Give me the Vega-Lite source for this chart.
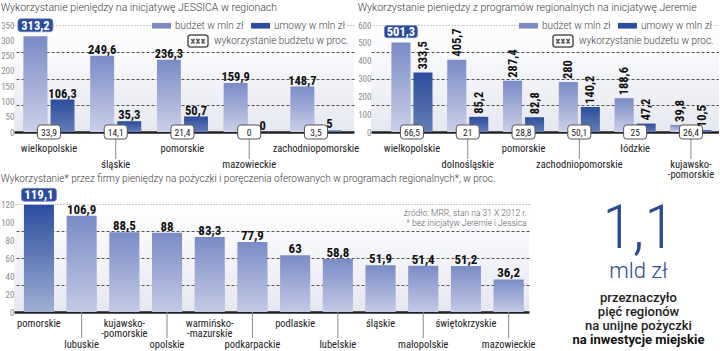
{
  "$schema": "https://vega.github.io/schema/vega-lite/v6.json",
  "padding": {"left": 0, "top": 2, "right": 0, "bottom": 0},
  "config": {
    "font": "'Roboto Condensed', 'DejaVu Sans Condensed', Roboto",
    "view": {"stroke": null},
    "locale": {"number": {"decimal": ",", "thousands": " ", "grouping": [3], "currency": ["", " zł"]}},
    "title": {"anchor": "start", "frame": "bounds", "font": "Roboto", "fontSize": 10.5, "fontWeight": 300, "color": "#3a3a3a", "offset": 3, "baseline": "bottom"},
    "axis": {"labelOverlap": false, "labelFont": "'Roboto Condensed', 'DejaVu Sans Condensed', Roboto"},
    "legend": {"labelFont": "Roboto", "labelFontWeight": 300, "labelFontSize": 10, "labelColor": "#444444", "symbolOpacity": 1, "padding": 0, "rowPadding": 0}
  },
  "resolve": {
    "scale": {"color": "independent", "opacity": "independent", "xOffset": "independent", "fillOpacity": "independent"},
    "legend": {"color": "independent", "opacity": "independent"}
  },
  "datasets": {
    "jessica": [
      {"region": "wielkopolskie", "typ": "budżet", "wartosc": 313.2},
      {"region": "wielkopolskie", "typ": "umowy", "wartosc": 106.3},
      {"region": "śląskie", "typ": "budżet", "wartosc": 249.6},
      {"region": "śląskie", "typ": "umowy", "wartosc": 35.3},
      {"region": "pomorskie", "typ": "budżet", "wartosc": 236.3},
      {"region": "pomorskie", "typ": "umowy", "wartosc": 50.7},
      {"region": "mazowieckie", "typ": "budżet", "wartosc": 159.9},
      {"region": "mazowieckie", "typ": "umowy", "wartosc": 0},
      {"region": "zachodniopomorskie", "typ": "budżet", "wartosc": 148.7},
      {"region": "zachodniopomorskie", "typ": "umowy", "wartosc": 5}
    ],
    "jessica_proc": [
      {"region": "wielkopolskie", "proc": 33.9},
      {"region": "śląskie", "proc": 14.1},
      {"region": "pomorskie", "proc": 21.4},
      {"region": "mazowieckie", "proc": 0},
      {"region": "zachodniopomorskie", "proc": 3.5}
    ],
    "jeremie": [
      {"region": "wielkopolskie", "typ": "budżet", "wartosc": 501.3},
      {"region": "wielkopolskie", "typ": "umowy", "wartosc": 333.5},
      {"region": "dolnośląskie", "typ": "budżet", "wartosc": 405.7},
      {"region": "dolnośląskie", "typ": "umowy", "wartosc": 85.2},
      {"region": "pomorskie", "typ": "budżet", "wartosc": 287.4},
      {"region": "pomorskie", "typ": "umowy", "wartosc": 82.8},
      {"region": "zachodniopomorskie", "typ": "budżet", "wartosc": 280},
      {"region": "zachodniopomorskie", "typ": "umowy", "wartosc": 140.2},
      {"region": "łódzkie", "typ": "budżet", "wartosc": 188.6},
      {"region": "łódzkie", "typ": "umowy", "wartosc": 47.2},
      {"region": "kujawsko-pomorskie", "typ": "budżet", "wartosc": 39.8},
      {"region": "kujawsko-pomorskie", "typ": "umowy", "wartosc": 10.5}
    ],
    "jeremie_proc": [
      {"region": "wielkopolskie", "proc": 66.5},
      {"region": "dolnośląskie", "proc": 21},
      {"region": "pomorskie", "proc": 28.8},
      {"region": "zachodniopomorskie", "proc": 50.1},
      {"region": "łódzkie", "proc": 25},
      {"region": "kujawsko-pomorskie", "proc": 26.4}
    ],
    "pozyczki": [
      {"region": "pomorskie", "wartosc": 119.1},
      {"region": "lubuskie", "wartosc": 106.9},
      {"region": "kujawsko-pomorskie", "wartosc": 88.5},
      {"region": "opolskie", "wartosc": 88},
      {"region": "warmińsko-mazurskie", "wartosc": 83.3},
      {"region": "podkarpackie", "wartosc": 77.9},
      {"region": "podlaskie", "wartosc": 63},
      {"region": "lubelskie", "wartosc": 58.8},
      {"region": "śląskie", "wartosc": 51.9},
      {"region": "małopolskie", "wartosc": 51.4},
      {"region": "świętokrzyskie", "wartosc": 51.2},
      {"region": "mazowieckie", "wartosc": 36.2}
    ],
    "notka": [
      {"linia1": "źródło: MRR, stan na 31 X 2012 r.", "linia2": "* bez inicjatyw Jeremie i Jessica"}
    ],
    "haslo": [
      {"n": 1, "tekst": "1,1"},
      {"n": 2, "tekst": "mld zł"},
      {"n": 3, "tekst": "przeznaczyło"},
      {"n": 4, "tekst": "pięć regionów"},
      {"n": 5, "tekst": "na unijne pożyczki"},
      {"n": 6, "tekst": "na inwestycje miejskie"}
    ]
  },
  "spacing": -7,
  "vconcat": [
    {
      "hconcat": [
        {
          "width": 340,
          "height": 107,
          "title": "Wykorzystanie pieniędzy na inicjatywę JESSICA w regionach",
          "view": {"fill": {"gradient": "linear", "x1": 0, "y1": 0, "x2": 0, "y2": 1, "stops": [{"offset": 0, "color": "#ffffff"}, {"offset": 1, "color": "#e6e8f0"}]}},
          "resolve": {"axis": {"y": "independent"}},
          "layer": [
            {
              "data": {"name": "jessica"},
              "mark": {"type": "bar"},
              "encoding": {
                "x": {"field": "region", "type": "nominal", "sort": null,
                  "scale": {"paddingInner": 0.236, "paddingOuter": 0.165, "align": 0.43},
                  "axis": {"title": null, "labelAngle": 0, "ticks": false, "domainColor": "#222222", "domainWidth": 2.5, "labelColor": "#222222", "labelFontSize": 10.5, "labelBaseline": "top", "labelLineHeight": 10.5,
                    "labelPadding": {"condition": {"test": "indexof(['śląskie','mazowieckie'], datum.value) >= 0", "value": 27}, "value": 11},
                    "labelExpr": "indexof(datum.value, '-') > 0 ? [substring(datum.value, 0, indexof(datum.value, '-') + 1), substring(datum.value, indexof(datum.value, '-'))] : datum.value"}},
                "xOffset": {"field": "typ", "type": "nominal", "sort": ["budżet", "umowy"], "scale": {"paddingInner": 0.12, "paddingOuter": 0}},
                "y": {"field": "wartosc", "type": "quantitative", "scale": {"domain": [0, 350], "nice": false},
                  "axis": {"title": null, "values": [0, 50, 100, 150, 200, 250, 300, 350], "grid": false, "domain": false, "ticks": false, "labelPadding": 0, "labelFontSize": 9, "labelColor": "#8a8a8a"}},
                "color": {"field": "typ", "type": "nominal", "scale": {"domain": ["budżet", "umowy"], "range": ["#7b8bc6", "#2c4d9c"]},
                  "legend": {"title": null, "orient": "none", "legendX": 138, "legendY": -9, "direction": "horizontal", "fillColor": "white", "symbolType": "M-1,-0.3L1,-0.3L1,0.3L-1,0.3Z", "symbolSize": 361, "symbolStrokeWidth": 0, "columnPadding": 7, "labelOffset": 4,
                    "labelExpr": "datum.label == 'budżet' ? 'budżet w mln zł' : 'umowy w mln zł'"}}
              }
            },
            {
              "data": {"name": "jessica"},
              "mark": {"type": "bar", "fill": {"gradient": "linear", "x1": 0, "y1": 0, "x2": 0, "y2": 1, "stops": [{"offset": 0, "color": "rgba(255,255,255,0)"}, {"offset": 1, "color": "rgba(255,255,255,0.6)"}]}},
              "encoding": {
                "x": {"field": "region", "type": "nominal", "sort": null},
                "xOffset": {"field": "typ", "type": "nominal", "sort": ["budżet", "umowy"]},
                "y": {"field": "wartosc", "type": "quantitative",
                  "axis": {"title": null, "orient": "right", "values": [87.5, 175, 262.5, 350], "labels": false, "ticks": false, "domain": false, "grid": true, "gridWidth": 1,
                    "gridColor": {"condition": {"test": "datum.value == 350", "value": "#9a9a9a"}, "value": "#555555"},
                    "gridDash": {"condition": {"test": "datum.value == 350", "value": [1, 2]}, "value": [3, 2]}}},
                "fillOpacity": {"condition": {"test": "datum.typ == 'umowy'", "value": 0.45}, "value": 1}
              }
            },
            {
              "data": {"name": "jessica_proc"},
              "transform": [{"filter": {"field": "region", "oneOf": ["śląskie", "mazowieckie"]}}],
              "mark": {"type": "tick", "orient": "vertical", "size": 27, "thickness": 1, "yOffset": 13.5, "color": "#8a8a8a", "opacity": 1},
              "encoding": {
                "x": {"field": "region", "type": "nominal", "sort": null},
                "y": {"datum": 0, "type": "quantitative", "axis": null}
              }
            },
            {
              "data": {"name": "jessica_proc"},
              "mark": {"type": "point", "shape": "M-0.74,-0.61L0.74,-0.61Q1,-0.61 1,-0.35L1,0.35Q1,0.61 0.74,0.61L-0.74,0.61Q-1,0.61 -1,0.35L-1,-0.35Q-1,-0.61 -0.74,-0.61Z", "size": 529, "filled": true, "fill": "white", "stroke": "#555555", "strokeWidth": 1},
              "encoding": {
                "x": {"field": "region", "type": "nominal", "sort": null},
                "y": {"datum": 0, "type": "quantitative", "axis": null},
                "opacity": {"datum": "wykorzystanie budżetu w proc.", "type": "nominal", "scale": {"type": "ordinal", "range": [1]},
                  "legend": {"title": null, "orient": "none", "legendX": 173, "legendY": 5, "symbolType": "M-0.75,-0.6L0.75,-0.6Q1,-0.6 1,-0.35L1,0.35Q1,0.6 0.75,0.6L-0.75,0.6Q-1,0.6 -1,0.35L-1,-0.35Q-1,-0.6 -0.75,-0.6Z M-0.66,-0.2L-0.36,0.25M-0.66,0.25L-0.36,-0.2M-0.15,-0.2L0.15,0.25M-0.15,0.25L0.15,-0.2M0.36,-0.2L0.66,0.25M0.36,0.25L0.66,-0.2", "symbolSize": 400, "labelOffset": 5,
                    "encode": {"symbols": {"update": {"fill": {"value": "white"}, "stroke": {"value": "#444444"}, "strokeWidth": {"value": 1}, "opacity": {"value": 1}}}}}}
              }
            },
            {
              "data": {"name": "jessica_proc"},
              "mark": {"type": "text", "fontSize": 9.5, "color": "#222222", "baseline": "middle", "dy": 0.5},
              "encoding": {
                "x": {"field": "region", "type": "nominal", "sort": null},
                "y": {"datum": 0, "type": "quantitative", "axis": null},
                "text": {"field": "proc", "type": "quantitative", "format": ".1~f"}
              }
            },
            {
              "data": {"name": "jessica"},
              "transform": [{"joinaggregate": [{"op": "max", "field": "wartosc", "as": "maks"}]}, {"filter": "datum.wartosc < datum.maks"}],
              "mark": {"type": "text", "fontSize": 12.5, "fontWeight": "bold", "color": "#111111", "baseline": "alphabetic", "dy": -2},
              "encoding": {
                "x": {"field": "region", "type": "nominal", "sort": null},
                "xOffset": {"field": "typ", "type": "nominal", "sort": ["budżet", "umowy"]},
                "y": {"field": "wartosc", "type": "quantitative", "axis": null},
                "text": {"field": "wartosc", "type": "quantitative", "format": ".1~f"}
              }
            },
            {
              "data": {"name": "jessica"},
              "transform": [{"joinaggregate": [{"op": "max", "field": "wartosc", "as": "maks"}]}, {"filter": "datum.wartosc == datum.maks"}],
              "mark": {"type": "point", "shape": "M-0.83,-0.37L0.83,-0.37Q1,-0.37 1,-0.2L1,0.2Q1,0.37 0.83,0.37L-0.83,0.37Q-1,0.37 -1,0.2L-1,-0.2Q-1,-0.37 -0.83,-0.37Z", "size": 1225, "filled": true, "fill": "#2b4c9b", "stroke": "#6f86c4", "strokeWidth": 0.8, "opacity": 1, "yOffset": -11},
              "encoding": {
                "x": {"field": "region", "type": "nominal", "sort": null},
                "xOffset": {"field": "typ", "type": "nominal", "sort": ["budżet", "umowy"]},
                "y": {"field": "wartosc", "type": "quantitative", "axis": null}
              }
            },
            {
              "data": {"name": "jessica"},
              "transform": [{"joinaggregate": [{"op": "max", "field": "wartosc", "as": "maks"}]}, {"filter": "datum.wartosc == datum.maks"}],
              "mark": {"type": "text", "fontSize": 12.5, "fontWeight": "bold", "color": "white", "baseline": "middle", "yOffset": -11, "dy": 0.5},
              "encoding": {
                "x": {"field": "region", "type": "nominal", "sort": null},
                "xOffset": {"field": "typ", "type": "nominal", "sort": ["budżet", "umowy"]},
                "y": {"field": "wartosc", "type": "quantitative", "axis": null},
                "text": {"field": "wartosc", "type": "quantitative", "format": ".1~f"}
              }
            }
          ]
        },
        {
          "width": 348,
          "height": 107,
          "title": "Wykorzystanie pieniędzy z programów regionalnych na inicjatywę Jeremie",
          "view": {"fill": {"gradient": "linear", "x1": 0, "y1": 0, "x2": 0, "y2": 1, "stops": [{"offset": 0, "color": "#ffffff"}, {"offset": 1, "color": "#e6e8f0"}]}},
          "resolve": {"axis": {"y": "independent"}},
          "layer": [
            {
              "data": {"name": "jeremie"},
              "mark": {"type": "bar"},
              "encoding": {
                "x": {"field": "region", "type": "nominal", "sort": null,
                  "scale": {"paddingInner": 0.265, "paddingOuter": 0.251, "align": 0.73},
                  "axis": {"title": null, "labelAngle": 0, "ticks": false, "domainColor": "#222222", "domainWidth": 2.5, "labelColor": "#222222", "labelFontSize": 10.5, "labelBaseline": "top", "labelLineHeight": 10.5,
                    "labelPadding": {"condition": {"test": "indexof(['dolnośląskie','zachodniopomorskie','kujawsko-pomorskie'], datum.value) >= 0", "value": 27}, "value": 11},
                    "labelExpr": "indexof(datum.value, '-') > 0 ? [substring(datum.value, 0, indexof(datum.value, '-') + 1), substring(datum.value, indexof(datum.value, '-'))] : datum.value"}},
                "xOffset": {"field": "typ", "type": "nominal", "sort": ["budżet", "umowy"], "scale": {"paddingInner": 0.136, "paddingOuter": 0}},
                "y": {"field": "wartosc", "type": "quantitative", "scale": {"domain": [0, 600], "nice": false},
                  "axis": {"title": null, "values": [0, 100, 200, 300, 400, 500, 600], "grid": false, "domain": false, "ticks": false, "labelPadding": 0, "labelFontSize": 9, "labelColor": "#8a8a8a"}},
                "color": {"field": "typ", "type": "nominal", "scale": {"domain": ["budżet", "umowy"], "range": ["#7b8bc6", "#2c4d9c"]},
                  "legend": {"title": null, "orient": "none", "legendX": 148, "legendY": -9, "direction": "horizontal", "fillColor": "white", "symbolType": "M-1,-0.3L1,-0.3L1,0.3L-1,0.3Z", "symbolSize": 361, "symbolStrokeWidth": 0, "columnPadding": 7, "labelOffset": 4,
                    "labelExpr": "datum.label == 'budżet' ? 'budżet w mln zł' : 'umowy w mln zł'"}}
              }
            },
            {
              "data": {"name": "jeremie"},
              "mark": {"type": "bar", "fill": {"gradient": "linear", "x1": 0, "y1": 0, "x2": 0, "y2": 1, "stops": [{"offset": 0, "color": "rgba(255,255,255,0)"}, {"offset": 1, "color": "rgba(255,255,255,0.6)"}]}},
              "encoding": {
                "x": {"field": "region", "type": "nominal", "sort": null},
                "xOffset": {"field": "typ", "type": "nominal", "sort": ["budżet", "umowy"]},
                "y": {"field": "wartosc", "type": "quantitative",
                  "axis": {"title": null, "orient": "right", "values": [150, 300, 450, 600], "labels": false, "ticks": false, "domain": false, "grid": true, "gridWidth": 1,
                    "gridColor": {"condition": {"test": "datum.value == 600", "value": "#9a9a9a"}, "value": "#555555"},
                    "gridDash": {"condition": {"test": "datum.value == 600", "value": [1, 2]}, "value": [3, 2]}}},
                "fillOpacity": {"condition": {"test": "datum.typ == 'umowy'", "value": 0.45}, "value": 1}
              }
            },
            {
              "data": {"name": "jeremie_proc"},
              "transform": [{"filter": {"field": "region", "oneOf": ["dolnośląskie", "zachodniopomorskie", "kujawsko-pomorskie"]}}],
              "mark": {"type": "tick", "orient": "vertical", "size": 27, "thickness": 1, "yOffset": 13.5, "color": "#8a8a8a", "opacity": 1},
              "encoding": {
                "x": {"field": "region", "type": "nominal", "sort": null},
                "y": {"datum": 0, "type": "quantitative", "axis": null}
              }
            },
            {
              "data": {"name": "jeremie_proc"},
              "mark": {"type": "point", "shape": "M-0.74,-0.61L0.74,-0.61Q1,-0.61 1,-0.35L1,0.35Q1,0.61 0.74,0.61L-0.74,0.61Q-1,0.61 -1,0.35L-1,-0.35Q-1,-0.61 -0.74,-0.61Z", "size": 529, "filled": true, "fill": "white", "stroke": "#555555", "strokeWidth": 1},
              "encoding": {
                "x": {"field": "region", "type": "nominal", "sort": null},
                "y": {"datum": 0, "type": "quantitative", "axis": null},
                "opacity": {"datum": "wykorzystanie budżetu w proc.", "type": "nominal", "scale": {"type": "ordinal", "range": [1]},
                  "legend": {"title": null, "orient": "none", "legendX": 181, "legendY": 5, "symbolType": "M-0.75,-0.6L0.75,-0.6Q1,-0.6 1,-0.35L1,0.35Q1,0.6 0.75,0.6L-0.75,0.6Q-1,0.6 -1,0.35L-1,-0.35Q-1,-0.6 -0.75,-0.6Z M-0.66,-0.2L-0.36,0.25M-0.66,0.25L-0.36,-0.2M-0.15,-0.2L0.15,0.25M-0.15,0.25L0.15,-0.2M0.36,-0.2L0.66,0.25M0.36,0.25L0.66,-0.2", "symbolSize": 400, "labelOffset": 5,
                    "encode": {"symbols": {"update": {"fill": {"value": "white"}, "stroke": {"value": "#444444"}, "strokeWidth": {"value": 1}, "opacity": {"value": 1}}}}}}
              }
            },
            {
              "data": {"name": "jeremie_proc"},
              "mark": {"type": "text", "fontSize": 9.5, "color": "#222222", "baseline": "middle", "dy": 0.5},
              "encoding": {
                "x": {"field": "region", "type": "nominal", "sort": null},
                "y": {"datum": 0, "type": "quantitative", "axis": null},
                "text": {"field": "proc", "type": "quantitative", "format": ".1~f"}
              }
            },
            {
              "data": {"name": "jeremie"},
              "transform": [{"joinaggregate": [{"op": "max", "field": "wartosc", "as": "maks"}]}, {"filter": "datum.wartosc < datum.maks"}],
              "mark": {"type": "text", "fontSize": 12.5, "fontWeight": "bold", "color": "#111111", "angle": 270, "align": "left", "baseline": "middle", "dx": 3},
              "encoding": {
                "x": {"field": "region", "type": "nominal", "sort": null},
                "xOffset": {"field": "typ", "type": "nominal", "sort": ["budżet", "umowy"]},
                "y": {"field": "wartosc", "type": "quantitative", "axis": null},
                "text": {"field": "wartosc", "type": "quantitative", "format": ".1~f"}
              }
            },
            {
              "data": {"name": "jeremie"},
              "transform": [{"joinaggregate": [{"op": "max", "field": "wartosc", "as": "maks"}]}, {"filter": "datum.wartosc == datum.maks"}],
              "mark": {"type": "point", "shape": "M-0.83,-0.37L0.83,-0.37Q1,-0.37 1,-0.2L1,0.2Q1,0.37 0.83,0.37L-0.83,0.37Q-1,0.37 -1,0.2L-1,-0.2Q-1,-0.37 -0.83,-0.37Z", "size": 1089, "filled": true, "fill": "#2b4c9b", "stroke": "#6f86c4", "strokeWidth": 0.8, "opacity": 1, "yOffset": -11},
              "encoding": {
                "x": {"field": "region", "type": "nominal", "sort": null},
                "xOffset": {"field": "typ", "type": "nominal", "sort": ["budżet", "umowy"]},
                "y": {"field": "wartosc", "type": "quantitative", "axis": null}
              }
            },
            {
              "data": {"name": "jeremie"},
              "transform": [{"joinaggregate": [{"op": "max", "field": "wartosc", "as": "maks"}]}, {"filter": "datum.wartosc == datum.maks"}],
              "mark": {"type": "text", "fontSize": 12.5, "fontWeight": "bold", "color": "white", "baseline": "middle", "yOffset": -11, "dy": 0.5},
              "encoding": {
                "x": {"field": "region", "type": "nominal", "sort": null},
                "xOffset": {"field": "typ", "type": "nominal", "sort": ["budżet", "umowy"]},
                "y": {"field": "wartosc", "type": "quantitative", "axis": null},
                "text": {"field": "wartosc", "type": "quantitative", "format": ".1~f"}
              }
            }
          ]
        }
      ],
      "spacing": 17,
      "bounds": "flush",
      "resolve": {
        "scale": {"color": "independent", "opacity": "independent", "xOffset": "independent", "fillOpacity": "independent"},
        "legend": {"color": "independent", "opacity": "independent"}
      }
    },
    {
      "hconcat": [
        {
          "width": 515,
          "height": 108,
          "title": {"text": "Wykorzystanie* przez firmy pieniędzy na pożyczki i poręczenia oferowanych w programach regionalnych*, w proc.", "fontSize": 10},
          "view": {"fill": {"gradient": "linear", "x1": 0, "y1": 0, "x2": 0, "y2": 1, "stops": [{"offset": 0, "color": "#ffffff"}, {"offset": 1, "color": "#e6e8f0"}]}},
          "resolve": {"axis": {"y": "independent"}},
          "layer": [
            {
              "data": {"name": "pozyczki"},
              "transform": [{"joinaggregate": [{"op": "max", "field": "wartosc", "as": "maks"}]}],
              "mark": {"type": "bar"},
              "encoding": {
                "x": {"field": "region", "type": "nominal", "sort": null,
                  "scale": {"paddingInner": 0.297, "paddingOuter": 0.179, "align": 0.65},
                  "axis": {"title": null, "labelAngle": 0, "ticks": false, "domainColor": "#222222", "domainWidth": 2.5, "labelColor": "#222222", "labelFontSize": 10.5, "labelBaseline": "top", "labelLineHeight": 10.5,
                    "labelPadding": {"condition": {"test": "indexof(['lubuskie','opolskie','podkarpackie','lubelskie','małopolskie','mazowieckie'], datum.value) >= 0", "value": 27}, "value": 6},
                    "labelExpr": "indexof(datum.value, '-') > 0 ? [substring(datum.value, 0, indexof(datum.value, '-') + 1), substring(datum.value, indexof(datum.value, '-'))] : datum.value"}},
                "y": {"field": "wartosc", "type": "quantitative", "scale": {"domain": [0, 120], "nice": false},
                  "axis": {"title": null, "values": [0, 20, 40, 60, 80, 100, 120], "grid": false, "domain": false, "ticks": false, "labelPadding": 0, "labelFontSize": 9, "labelColor": "#8a8a8a"}},
                "color": {"condition": {"test": "datum.wartosc == datum.maks", "value": "#2b4d9e"}, "value": "#7b8bc6"}
              }
            },
            {
              "data": {"name": "pozyczki"},
              "mark": {"type": "bar", "fill": {"gradient": "linear", "x1": 0, "y1": 0, "x2": 0, "y2": 1, "stops": [{"offset": 0, "color": "rgba(255,255,255,0)"}, {"offset": 1, "color": "rgba(255,255,255,0.55)"}]}},
              "encoding": {
                "x": {"field": "region", "type": "nominal", "sort": null},
                "y": {"field": "wartosc", "type": "quantitative",
                  "axis": {"title": null, "orient": "right", "values": [30, 60, 90, 120], "labels": false, "ticks": false, "domain": false, "grid": true, "gridWidth": 1,
                    "gridColor": {"condition": {"test": "datum.value == 120", "value": "#9a9a9a"}, "value": "#555555"},
                    "gridDash": {"condition": {"test": "datum.value == 120", "value": [1, 2]}, "value": [3, 2]}}}
              }
            },
            {
              "data": {"name": "pozyczki"},
              "transform": [{"filter": {"field": "region", "oneOf": ["lubuskie", "opolskie", "podkarpackie", "lubelskie", "małopolskie", "mazowieckie"]}}],
              "mark": {"type": "tick", "orient": "vertical", "size": 26, "thickness": 1, "yOffset": 13, "color": "#8a8a8a", "opacity": 1},
              "encoding": {
                "x": {"field": "region", "type": "nominal", "sort": null},
                "y": {"datum": 0, "type": "quantitative", "axis": null}
              }
            },
            {
              "data": {"name": "pozyczki"},
              "transform": [{"joinaggregate": [{"op": "max", "field": "wartosc", "as": "maks"}]}, {"filter": "datum.wartosc < datum.maks"}],
              "mark": {"type": "text", "fontSize": 13, "fontWeight": "bold", "color": "#111111", "baseline": "alphabetic", "dy": -2},
              "encoding": {
                "x": {"field": "region", "type": "nominal", "sort": null},
                "y": {"field": "wartosc", "type": "quantitative", "axis": null},
                "text": {"field": "wartosc", "type": "quantitative", "format": ".1~f"}
              }
            },
            {
              "data": {"name": "pozyczki"},
              "transform": [{"joinaggregate": [{"op": "max", "field": "wartosc", "as": "maks"}]}, {"filter": "datum.wartosc == datum.maks"}],
              "mark": {"type": "point", "shape": "M-0.83,-0.37L0.83,-0.37Q1,-0.37 1,-0.2L1,0.2Q1,0.37 0.83,0.37L-0.83,0.37Q-1,0.37 -1,0.2L-1,-0.2Q-1,-0.37 -0.83,-0.37Z", "size": 1225, "filled": true, "fill": "#2b4c9b", "stroke": "#6f86c4", "strokeWidth": 0.8, "opacity": 1, "yOffset": -10},
              "encoding": {
                "x": {"field": "region", "type": "nominal", "sort": null},
                "y": {"field": "wartosc", "type": "quantitative", "axis": null}
              }
            },
            {
              "data": {"name": "pozyczki"},
              "transform": [{"joinaggregate": [{"op": "max", "field": "wartosc", "as": "maks"}]}, {"filter": "datum.wartosc == datum.maks"}],
              "mark": {"type": "text", "fontSize": 13, "fontWeight": "bold", "color": "white", "baseline": "middle", "yOffset": -10, "dy": 0.5},
              "encoding": {
                "x": {"field": "region", "type": "nominal", "sort": null},
                "y": {"field": "wartosc", "type": "quantitative", "axis": null},
                "text": {"field": "wartosc", "type": "quantitative", "format": ".1~f"}
              }
            },
            {
              "data": {"name": "notka"},
              "mark": {"type": "text", "align": "right", "baseline": "top", "font": "Roboto", "fontWeight": 300, "fontSize": 8.5, "color": "#666666", "dy": 5, "dx": 3},
              "encoding": {
                "x": {"datum": "mazowieckie", "type": "nominal", "bandPosition": 1},
                "y": {"datum": 120, "type": "quantitative", "axis": null},
                "text": {"field": "linia1"}
              }
            },
            {
              "data": {"name": "notka"},
              "mark": {"type": "text", "align": "right", "baseline": "top", "font": "Roboto", "fontWeight": 300, "fontSize": 8.5, "color": "#666666", "dy": 15, "dx": 3},
              "encoding": {
                "x": {"datum": "mazowieckie", "type": "nominal", "bandPosition": 1},
                "y": {"datum": 120, "type": "quantitative", "axis": null},
                "text": {"field": "linia2"}
              }
            }
          ]
        },
        {
          "width": 173,
          "height": 108,
          "data": {"name": "haslo"},
          "layer": [
            {
              "transform": [{"filter": "datum.n == 1"}],
              "mark": {"type": "text", "font": "Roboto Condensed", "fontWeight": 300, "fontSize": 62, "color": "#2b4a96", "baseline": "alphabetic", "dx": 6},
              "encoding": {
                "y": {"field": "n", "type": "quantitative", "axis": null, "scale": {"domain": [1, 2, 3, 6], "range": [44, 74, 98, 140], "nice": false, "zero": false}},
                "text": {"field": "tekst"}
              }
            },
            {
              "transform": [{"filter": "datum.n == 2"}],
              "mark": {"type": "text", "font": "Roboto", "fontWeight": 300, "fontSize": 22, "color": "#2b4a96", "baseline": "alphabetic", "dx": 6},
              "encoding": {
                "y": {"field": "n", "type": "quantitative", "axis": null},
                "text": {"field": "tekst"}
              }
            },
            {
              "transform": [{"filter": "datum.n >= 3 && datum.n <= 5"}],
              "mark": {"type": "text", "font": "Roboto", "fontWeight": 500, "fontSize": 13, "color": "#222222", "baseline": "alphabetic", "dx": 6},
              "encoding": {
                "y": {"field": "n", "type": "quantitative", "axis": null},
                "text": {"field": "tekst"}
              }
            },
            {
              "transform": [{"filter": "datum.n == 6"}],
              "mark": {"type": "text", "font": "Roboto", "fontWeight": "bold", "fontSize": 13, "color": "#111111", "baseline": "alphabetic", "dx": 6},
              "encoding": {
                "y": {"field": "n", "type": "quantitative", "axis": null},
                "text": {"field": "tekst"}
              }
            }
          ]
        }
      ],
      "spacing": 17,
      "bounds": "flush"
    }
  ]
}
